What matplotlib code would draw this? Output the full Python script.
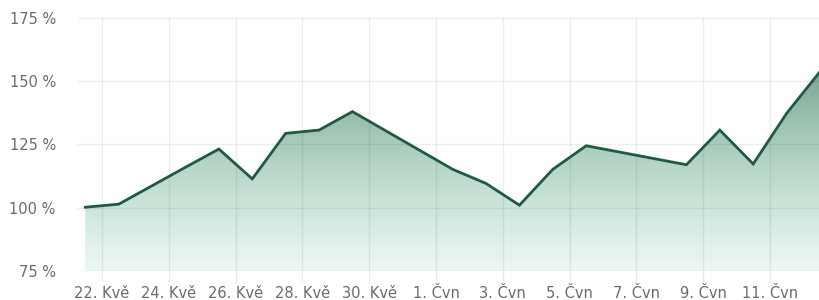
import numpy as np
import pandas as pd
import matplotlib
matplotlib.use("Agg")
import matplotlib.pyplot as plt
import matplotlib.dates as mdates
from matplotlib.patches import Polygon

# daily values (%), one point per day at noon
start = "2024-05-21 12:00"
values = [100.2, 101.4, 108.7, 116.0, 123.2, 111.4, 129.4, 130.7, 138.0, 130.4,
          122.8, 115.2, 109.6, 101.0, 115.2, 124.5, 122.0, 119.5, 117.0, 130.7,
          117.3, 137.3, 153.8]
dates = pd.date_range(start, periods=len(values), freq="D")

tick_dates = pd.date_range("2024-05-22", "2024-06-11", freq="2D")
tick_labels = ["22. Kvě", "24. Kvě", "26. Kvě", "28. Kvě", "30. Kvě", "1. Čvn",
               "3. Čvn", "5. Čvn", "7. Čvn", "9. Čvn", "11. Čvn"]
y_ticks = [75, 100, 125, 150, 175]

line_color = "#1e5a45"
text_color = "#6b6b6b"

fig = plt.figure(figsize=(8.2, 3.0), dpi=100)
ax = fig.add_axes([0.0951, 0.0967, 0.9049, 0.8433])

x = mdates.date2num(dates)
y = np.array(values)
ymin, ymax = 75, 175

# gradient fill under the line, clipped to the area polygon
n = 256
top_rgb = np.array([30, 100, 70]) / 255
bot_rgb = np.array([60, 170, 120]) / 255
t = np.linspace(0, 1, n)[:, None]  # 0 = bottom, 1 = top
grad = np.zeros((n, 1, 4))
grad[:, 0, :3] = bot_rgb * (1 - t) + top_rgb * t
grad[:, 0, 3] = (0.09 + (0.58 - 0.09) * t)[:, 0]
img = ax.imshow(grad, aspect="auto", origin="lower",
                extent=[x[0], x[-1], ymin, y.max()], zorder=1)
verts = np.vstack([[x[0], ymin], np.column_stack([x, y]), [x[-1], ymin]])
poly = Polygon(verts, closed=True, facecolor="none", edgecolor="none")
ax.add_patch(poly)
img.set_clip_path(poly)

ax.plot(x, y, color=line_color, lw=2.0, zorder=4, solid_joinstyle="miter")

ax.set_xlim(mdates.date2num(pd.Timestamp("2024-05-21 06:45")), x[-1])
ax.set_ylim(ymin, ymax)

ax.set_xticks(mdates.date2num(tick_dates))
ax.set_xticklabels(tick_labels)
ax.set_yticks(y_ticks)
ax.set_yticklabels([f"{v} %" for v in y_ticks])

ax.grid(True, color="black", alpha=0.07, lw=1.0, zorder=2.5)
ax.set_axisbelow(False)
for s in ax.spines.values():
    s.set_visible(False)

ax.tick_params(axis="x", length=8, width=1.0, color="#ebebeb", pad=3,
               labelsize=10.5, labelcolor=text_color)
ax.tick_params(axis="y", length=0, pad=16, labelsize=10.5, labelcolor=text_color)

fig.savefig("out.png", dpi=100)
